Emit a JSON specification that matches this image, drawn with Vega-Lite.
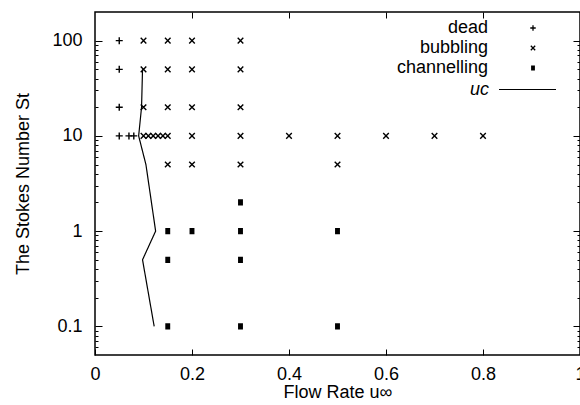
{
  "$schema": "https://vega.github.io/schema/vega-lite/v6.json",
  "width": 485,
  "height": 343,
  "autosize": {"type": "none"},
  "padding": {"left": 95, "top": 12, "right": 0, "bottom": 50},
  "config": {
    "font": "Liberation Sans",
    "view": {"stroke": "black", "strokeWidth": 1.5},
    "axis": {
      "grid": false,
      "domain": false,
      "tickColor": "black",
      "labelColor": "black",
      "titleColor": "black",
      "labelFontSize": 18,
      "titleFontSize": 18,
      "titleFontWeight": "normal",
      "labelFont": "Liberation Sans",
      "titleFont": "Liberation Sans",
      "labelFlush": false
    }
  },
  "datasets": {
    "pts": [
      {"u": 0.05, "St": 100, "regime": "dead"},
      {"u": 0.05, "St": 50, "regime": "dead"},
      {"u": 0.05, "St": 20, "regime": "dead"},
      {"u": 0.05, "St": 10, "regime": "dead"},
      {"u": 0.07, "St": 10, "regime": "dead"},
      {"u": 0.08, "St": 10, "regime": "dead"},
      {"u": 0.1, "St": 100, "regime": "bubbling"},
      {"u": 0.15, "St": 100, "regime": "bubbling"},
      {"u": 0.2, "St": 100, "regime": "bubbling"},
      {"u": 0.3, "St": 100, "regime": "bubbling"},
      {"u": 0.1, "St": 50, "regime": "bubbling"},
      {"u": 0.15, "St": 50, "regime": "bubbling"},
      {"u": 0.2, "St": 50, "regime": "bubbling"},
      {"u": 0.3, "St": 50, "regime": "bubbling"},
      {"u": 0.1, "St": 20, "regime": "bubbling"},
      {"u": 0.15, "St": 20, "regime": "bubbling"},
      {"u": 0.2, "St": 20, "regime": "bubbling"},
      {"u": 0.3, "St": 20, "regime": "bubbling"},
      {"u": 0.1, "St": 10, "regime": "bubbling"},
      {"u": 0.11, "St": 10, "regime": "bubbling"},
      {"u": 0.12, "St": 10, "regime": "bubbling"},
      {"u": 0.13, "St": 10, "regime": "bubbling"},
      {"u": 0.14, "St": 10, "regime": "bubbling"},
      {"u": 0.15, "St": 10, "regime": "bubbling"},
      {"u": 0.2, "St": 10, "regime": "bubbling"},
      {"u": 0.3, "St": 10, "regime": "bubbling"},
      {"u": 0.4, "St": 10, "regime": "bubbling"},
      {"u": 0.5, "St": 10, "regime": "bubbling"},
      {"u": 0.6, "St": 10, "regime": "bubbling"},
      {"u": 0.7, "St": 10, "regime": "bubbling"},
      {"u": 0.8, "St": 10, "regime": "bubbling"},
      {"u": 0.15, "St": 5, "regime": "bubbling"},
      {"u": 0.2, "St": 5, "regime": "bubbling"},
      {"u": 0.3, "St": 5, "regime": "bubbling"},
      {"u": 0.5, "St": 5, "regime": "bubbling"},
      {"u": 0.3, "St": 2, "regime": "channelling"},
      {"u": 0.15, "St": 1, "regime": "channelling"},
      {"u": 0.2, "St": 1, "regime": "channelling"},
      {"u": 0.3, "St": 1, "regime": "channelling"},
      {"u": 0.5, "St": 1, "regime": "channelling"},
      {"u": 0.15, "St": 0.5, "regime": "channelling"},
      {"u": 0.3, "St": 0.5, "regime": "channelling"},
      {"u": 0.15, "St": 0.1, "regime": "channelling"},
      {"u": 0.3, "St": 0.1, "regime": "channelling"},
      {"u": 0.5, "St": 0.1, "regime": "channelling"}
    ],
    "uc": [
      {"i": 1, "u": 0.098, "St": 50, "lab": "uc"},
      {"i": 2, "u": 0.096, "St": 20, "lab": "uc"},
      {"i": 3, "u": 0.09, "St": 10, "lab": "uc"},
      {"i": 4, "u": 0.105, "St": 5, "lab": "uc"},
      {"i": 5, "u": 0.125, "St": 1, "lab": "uc"},
      {"i": 6, "u": 0.098, "St": 0.5, "lab": "uc"},
      {"i": 7, "u": 0.122, "St": 0.1, "lab": "uc"}
    ]
  },
  "layer": [
    {
      "data": {"name": "pts"},
      "mark": {"type": "point", "filled": false, "color": "black", "opacity": 1, "strokeWidth": 1.4, "size": 49},
      "encoding": {
        "x": {
          "field": "u", "type": "quantitative",
          "scale": {"domain": [0, 1], "nice": false, "zero": false},
          "axis": {
            "orient": "bottom",
            "title": "Flow Rate u∞",
            "values": [0, 0.2, 0.4, 0.6, 0.8, 1],
            "format": "~g",
            "tickSize": -6,
            "labelPadding": 16,
            "titlePadding": 0
          }
        },
        "y": {
          "field": "St", "type": "quantitative",
          "scale": {"type": "log", "domain": [0.05, 200], "nice": false},
          "axis": {
            "orient": "left",
            "title": "The Stokes Number St",
            "values": [0.06, 0.07, 0.08, 0.09, 0.1, 0.2, 0.3, 0.4, 0.5, 0.6, 0.7, 0.8, 0.9, 1, 2, 3, 4, 5, 6, 7, 8, 9, 10, 20, 30, 40, 50, 60, 70, 80, 90, 100],
            "labelExpr": "datum.value == 0.1 ? '0.1' : datum.value == 1 ? '1' : datum.value == 10 ? '10' : datum.value == 100 ? '100' : ''",
            "tickSize": {"condition": {"test": "datum.value == 0.1 || datum.value == 1 || datum.value == 10 || datum.value == 100", "value": -7}, "value": -3},
            "labelPadding": 20,
            "titlePadding": 19
          }
        },
        "shape": {
          "field": "regime", "type": "nominal",
          "scale": {
            "domain": ["dead", "bubbling", "channelling"],
            "range": [
              "M-1,0H1M0,-1V1",
              "M-0.8,-0.8L0.8,0.8M-0.8,0.8L0.8,-0.8",
              "M-0.7,-0.7H0.7M-0.7,-0.35H0.7M-0.7,0H0.7M-0.7,0.35H0.7M-0.7,0.7H0.7"
            ]
          },
          "legend": {
            "title": null,
            "orient": "none",
            "legendX": 429,
            "legendY": 7,
            "padding": 0,
            "labelFontSize": 18,
            "labelColor": "black",
            "labelAlign": "right",
            "labelOffset": -54,
            "symbolSize": 30,
            "rowPadding": 2,
            "symbolStrokeColor": "black",
            "symbolStrokeWidth": 1.3
          }
        }
      }
    },
    {
      "data": {"name": "uc"},
      "mark": {"type": "line", "color": "black", "strokeWidth": 1.2},
      "encoding": {
        "x": {
          "field": "u", "type": "quantitative",
          "scale": {"domain": [0, 1], "nice": false, "zero": false},
          "axis": {"orient": "top", "labels": false, "title": null, "values": [0.2, 0.4, 0.6, 0.8], "tickSize": -6}
        },
        "y": {
          "field": "St", "type": "quantitative",
          "scale": {"type": "log", "domain": [0.05, 200], "nice": false},
          "axis": {
            "orient": "right", "labels": false, "title": null,
            "values": [0.06, 0.07, 0.08, 0.09, 0.1, 0.2, 0.3, 0.4, 0.5, 0.6, 0.7, 0.8, 0.9, 1, 2, 3, 4, 5, 6, 7, 8, 9, 10, 20, 30, 40, 50, 60, 70, 80, 90, 100],
            "tickSize": {"condition": {"test": "datum.value == 0.1 || datum.value == 1 || datum.value == 10 || datum.value == 100", "value": -7}, "value": -3}
          }
        },
        "strokeDash": {
          "field": "lab", "type": "nominal",
          "scale": {"domain": ["uc"], "range": [[1, 0]]},
          "legend": {
            "title": null,
            "orient": "none",
            "legendX": 403,
            "legendY": 48,
            "padding": 0,
            "labelFontSize": 18,
            "labelColor": "black",
            "labelFontStyle": "italic",
            "labelAlign": "right",
            "labelOffset": -68,
            "symbolType": "stroke",
            "symbolSize": 3249,
            "symbolStrokeColor": "black",
            "symbolStrokeWidth": 1.2
          }
        },
        "order": {"field": "i", "type": "quantitative"}
      }
    }
  ],
  "resolve": {"axis": {"x": "independent", "y": "independent"}}
}
